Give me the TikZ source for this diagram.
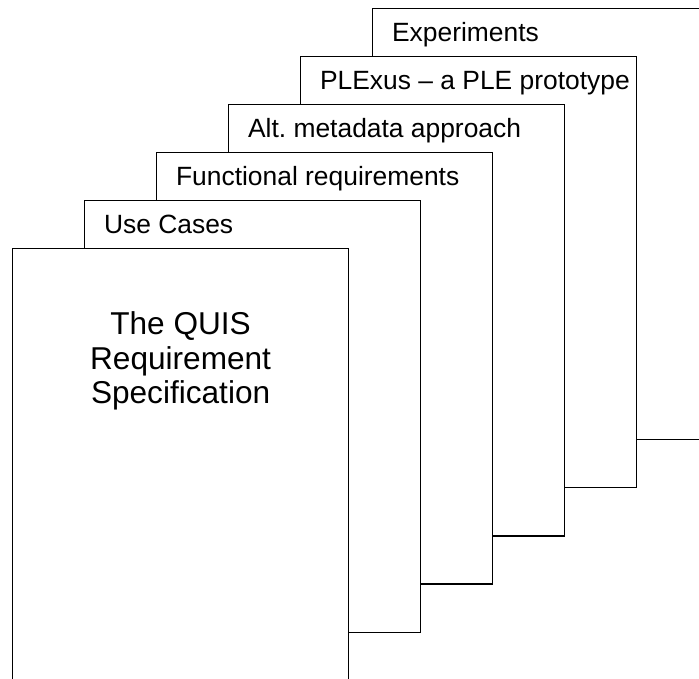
\documentclass[tikz,border=0pt]{standalone}
\usepackage{fontspec}
\setmainfont{Liberation Sans}
\usetikzlibrary{calc}
\begin{document}
\begin{tikzpicture}[x=1pt,y=-1pt,
  sheet/.style={draw=black, fill=white, line width=1.2pt, anchor=north west,
    minimum width=336.3pt, minimum height=431.5pt, inner sep=0pt, outer sep=0pt},
  tablabel/.style={anchor=base west, inner sep=0pt,
    font=\fontsize{26.4}{30}\selectfont},
  titletext/.style={align=center, inner sep=0pt, anchor=base,
    font=\fontsize{31.6}{34.4}\selectfont}]
\clip (0,0) rectangle (699,679);
% stack of sheets, back to front
\node[sheet] (s5) at (372.4,8.2)  {};
\node[sheet] (s4) at (300.4,56.3) {};
\node[sheet] (s3) at (228.4,104.4) {};
\node[sheet] (s2) at (156.4,152.5) {};
\node[sheet] (s1) at (84.4,200.6) {};
\node[sheet] (s0) at (12.4,248.7) {};
% labels on the visible strip of each sheet
\node[tablabel] (l5) at ($(s5.north west)+(19.5,33.3)$) {Experiments};
\node[tablabel] (l4) at ($(s4.north west)+(19.5,33.3)$) {PLExus – a PLE prototype};
\node[tablabel] (l3) at ($(s3.north west)+(19.5,33.3)$) {Alt.\ metadata approach};
\node[tablabel] (l2) at ($(s2.north west)+(19.5,33.3)$) {Functional requirements};
\node[tablabel] (l1) at ($(s1.north west)+(19.5,33.3)$) {Use Cases};
% title on the front sheet (base anchor sits on the last line)
\node[titletext] (t0) at (180.6,403.6) {The QUIS\\Requirement\\Specification};
\end{tikzpicture}
\end{document}
